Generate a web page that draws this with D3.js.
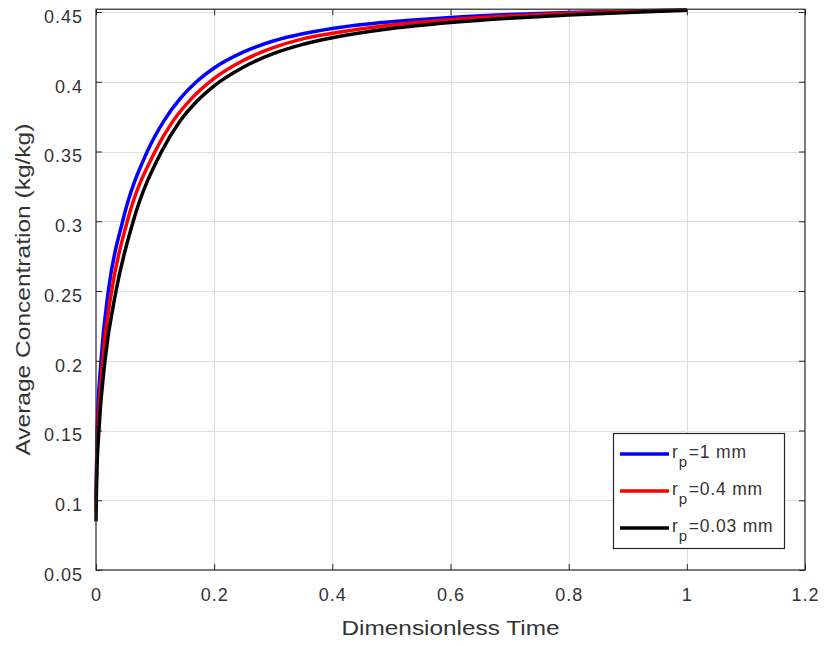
<!DOCTYPE html>
<html>
<head>
<meta charset="utf-8">
<script src="https://cdn.jsdelivr.net/npm/d3@7"></script>
<style>
  html, body { margin: 0; padding: 0; background: #fff; }
  svg { display: block; }
  text { font-family: "Liberation Sans", Arial, Helvetica, sans-serif; fill: #333; }
</style>
</head>
<body>
<svg id="chart" width="824" height="646"></svg>
<script>
// ---- data ----
const xTicks = [0, 0.2, 0.4, 0.6, 0.8, 1, 1.2];
const yTicks = [0.05, 0.1, 0.15, 0.2, 0.25, 0.3, 0.35, 0.4, 0.45];
const xTickLabels = ["0", "0.2", "0.4", "0.6", "0.8", "1", "1.2"];
const yTickLabels = ["0.05", "0.1", "0.15", "0.2", "0.25", "0.3", "0.35", "0.4", "0.45"];

const seriesNames = ["=1 mm", "=0.4 mm", "=0.03 mm"];
const seriesColors = ["#0000ff", "#ff0000", "#000000"];

const tBlue = [0, 0.002, 0.0085, 0.0209, 0.0451, 0.0868, 0.115, 0.142, 0.17, 0.2, 0.25, 0.3, 0.35, 0.4, 0.5, 0.6, 0.7, 0.8, 0.9, 1.0];
const cBlue = [0.100, 0.150, 0.200, 0.250, 0.300, 0.350, 0.372, 0.3877, 0.400, 0.4099, 0.4214, 0.4292, 0.4344, 0.4382, 0.4430, 0.4461, 0.4482, 0.4497, 0.4507, 0.4515];

const tRed = [0, 0.001, 0.0033, 0.0113, 0.0265, 0.053, 0.0999, 0.13, 0.16, 0.2, 0.25, 0.3, 0.35, 0.4, 0.5, 0.6, 0.7, 0.8, 0.9, 1.0];
const cRed = [0.092, 0.125, 0.150, 0.200, 0.250, 0.300, 0.350, 0.3716, 0.3872, 0.4024, 0.4154, 0.4244, 0.4307, 0.4347, 0.4407, 0.4445, 0.4472, 0.4491, 0.4505, 0.4515];

const tBlack = [0, 0.001, 0.0049, 0.0152, 0.0339, 0.063, 0.111, 0.142, 0.17, 0.2, 0.25, 0.3, 0.35, 0.4, 0.5, 0.6, 0.7, 0.8, 0.9, 1.0];
const cBlack = [0.085, 0.114, 0.150, 0.200, 0.250, 0.300, 0.350, 0.3717, 0.3857, 0.3971, 0.4106, 0.4201, 0.4268, 0.4315, 0.4381, 0.4424, 0.4455, 0.4478, 0.4497, 0.4513];

// ---- layout ----
const svg = d3.select("#chart");
const L = 96, R = 805, B = 570;
const x = d3.scaleLinear().domain([0, 1.2]).range([L, R]);
const y = d3.scaleLinear().domain([0.05, 0.45]).range([B, 12]);
const yMax = 0.452;
const T = y(yMax);

const series = [
  d3.zip(tBlue, cBlue),
  d3.zip(tRed, cRed),
  d3.zip(tBlack, cBlack)
];

// grid
const grid = svg.append("g").attr("stroke", "#dedede").attr("stroke-width", 1);
xTicks.slice(1, -1).forEach(v => {
  grid.append("line").attr("x1", Math.round(x(v)) + 0.5).attr("x2", Math.round(x(v)) + 0.5)
    .attr("y1", T).attr("y2", B);
});
yTicks.slice(1).forEach(v => {
  grid.append("line").attr("y1", Math.round(y(v)) + 0.5).attr("y2", Math.round(y(v)) + 0.5)
    .attr("x1", L).attr("x2", R);
});

// axes (ticks inward on all four sides)
const tickLen = 6;
const xAxisB = d3.axisBottom(x).tickValues(xTicks).tickSize(-tickLen).tickFormat((d, i) => xTickLabels[i]);
const xAxisT = d3.axisTop(x).tickValues(xTicks).tickSize(-tickLen).tickFormat("");
const yAxisL = d3.axisLeft(y).tickValues(yTicks).tickSize(-tickLen).tickFormat((d, i) => yTickLabels[i]);
const yAxisR = d3.axisRight(y).tickValues(yTicks).tickSize(-tickLen).tickFormat("");

function styleAxis(g) {
  g.select(".domain").remove();
  g.selectAll(".tick line").attr("stroke", "#262626");
  g.selectAll(".tick text").attr("font-size", 18).attr("fill", "#333")
    .style("letter-spacing", "1px")
    .attr("font-family", "'Liberation Sans', Arial, sans-serif");
}
svg.append("g").attr("transform", `translate(0,${B})`).call(xAxisB).call(styleAxis)
  .selectAll(".tick text").attr("dy", "0.71em").attr("y", 18);
svg.append("g").attr("transform", `translate(0,${T})`).call(xAxisT).call(styleAxis);
svg.append("g").attr("transform", `translate(${L},0)`).call(yAxisL).call(styleAxis)
  .selectAll(".tick text").attr("dy", "0.58em").attr("x", -13);
svg.append("g").attr("transform", `translate(${R},0)`).call(yAxisR).call(styleAxis);

// curves
const line = d3.line().x(d => x(d[0])).y(d => y(d[1])).curve(d3.curveMonotoneX);
series.forEach((s, i) => {
  svg.append("path").datum(s).attr("d", line)
    .attr("fill", "none").attr("stroke", seriesColors[i]).attr("stroke-width", 3.5)
    .attr("stroke-linejoin", "round");
});

// box
svg.append("rect").attr("x", L).attr("y", T).attr("width", R - L).attr("height", B - T)
  .attr("fill", "none").attr("stroke", "#262626").attr("stroke-width", 1.2);

// axis titles
svg.append("text").attr("x", (L + R) / 2).attr("y", 635).attr("text-anchor", "middle")
  .attr("font-size", 20).attr("textLength", 218).attr("lengthAdjust", "spacingAndGlyphs")
  .text("Dimensionless Time");
svg.append("text").attr("transform", `translate(30,${(T + B) / 2}) rotate(-90)`)
  .attr("text-anchor", "middle").attr("font-size", 20)
  .attr("textLength", 332).attr("lengthAdjust", "spacingAndGlyphs")
  .text("Average Concentration (kg/kg)");

// legend
const lg = svg.append("g");
lg.append("rect").attr("x", 613.5).attr("y", 433.5).attr("width", 171).attr("height", 115)
  .attr("fill", "#fff").attr("stroke", "#262626").attr("stroke-width", 1.2);
const rowY = [454, 491, 528];
seriesNames.forEach((name, i) => {
  lg.append("line").attr("x1", 620).attr("x2", 669).attr("y1", rowY[i]).attr("y2", rowY[i])
    .attr("stroke", seriesColors[i]).attr("stroke-width", 3.5);
  const t = lg.append("text").attr("x", 672).attr("y", rowY[i] + 4).attr("font-size", 17.5)
    .style("letter-spacing", "0.8px");
  t.append("tspan").text("r");
  t.append("tspan").attr("dy", 9).attr("font-size", 15).text("p");
  t.append("tspan").attr("dy", -9).attr("dx", 1).text(name);
});
</script>
</body>
</html>
